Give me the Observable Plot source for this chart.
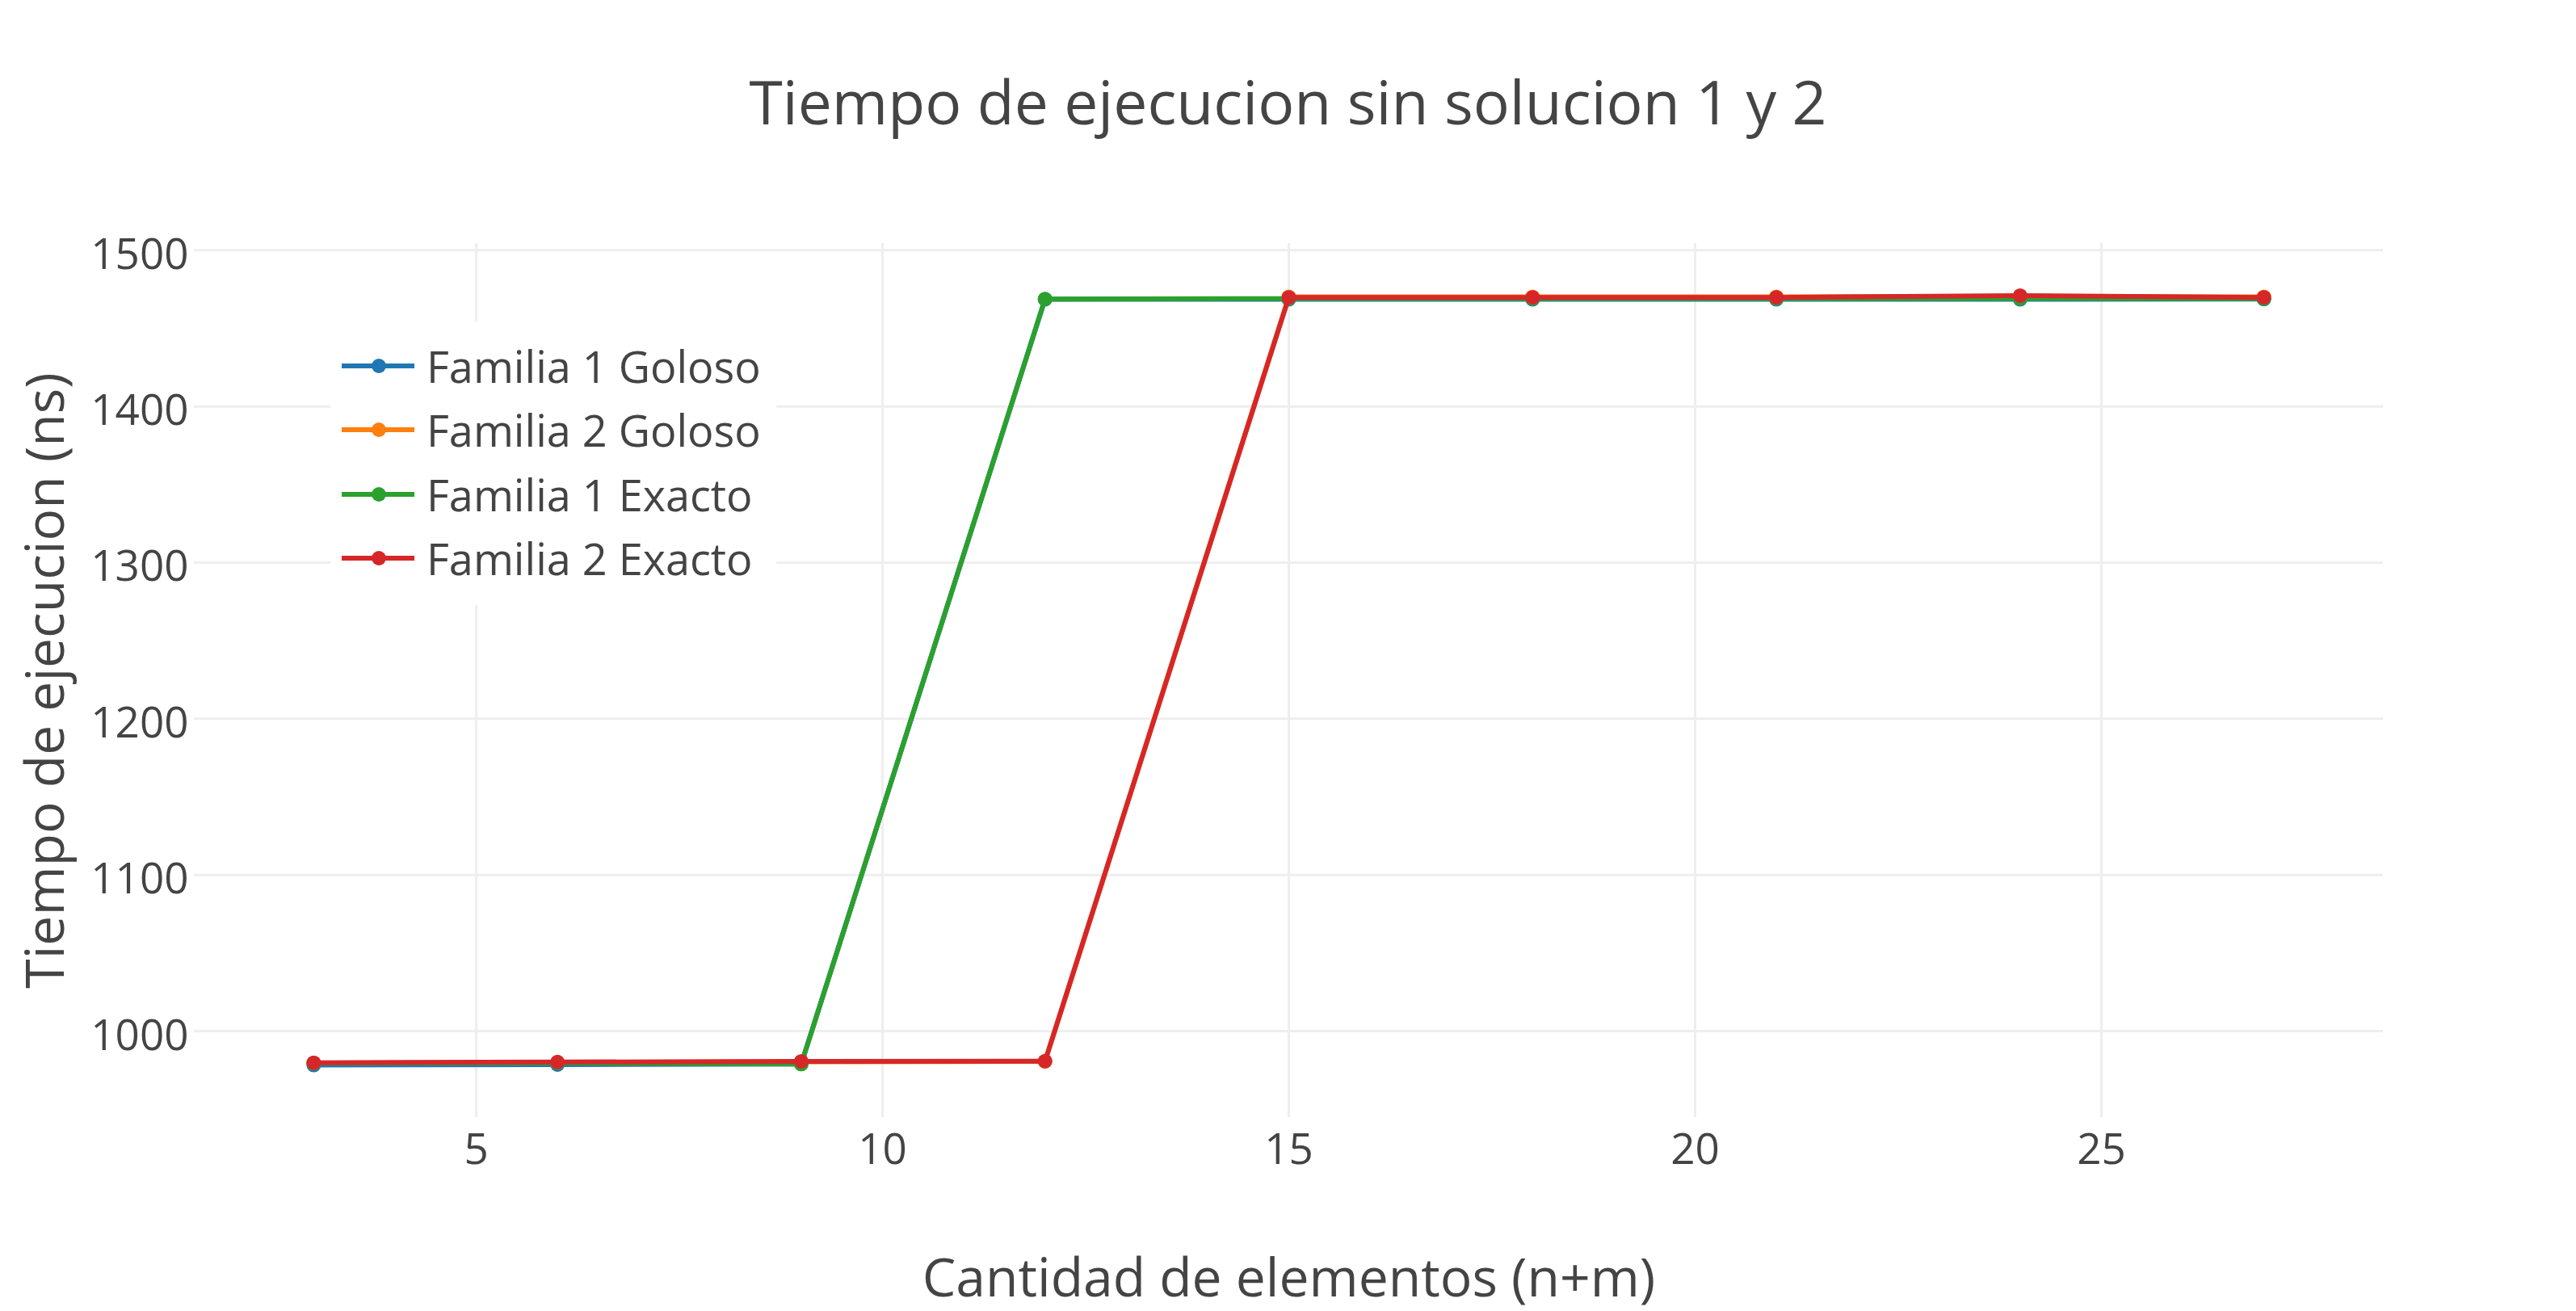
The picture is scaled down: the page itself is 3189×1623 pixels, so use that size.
<!DOCTYPE html>
<html>
<head>
<meta charset="utf-8">
<script src="https://cdn.jsdelivr.net/npm/d3@7"></script>
<script src="https://cdn.jsdelivr.net/npm/@observablehq/plot@0.6"></script>
<style>
  html, body { margin: 0; padding: 0; background: #fff; }
  #wrap { position: relative; width: 3189px; height: 1623px; font-family: "Open Sans", sans-serif; color: #444; overflow: hidden; }
  #title { position: absolute; left: 0; width: 3189px; top: 88px; text-align: center; font-size: 75px; line-height: 1; white-space: nowrap; }
  #chart { position: absolute; left: 0; top: 230px; }
  #legend { position: absolute; left: 409px; top: 398px; width: 552px; height: 351px; background: #fff; }
  .lg-item { position: absolute; left: 0; height: 60px; width: 552px; }
  .lg-item svg { position: absolute; left: 0; top: 0; }
  .lg-item span { position: absolute; left: 119px; top: 0; font-size: 54px; line-height: 60px; white-space: nowrap; }
</style>
</head>
<body>
<div id="wrap">
  <div id="title">Tiempo de ejecucion sin solucion 1 y 2</div>
  <div id="chart"></div>
  <div id="legend"></div>
</div>
<script>
// ---- data ----
const xValues = [3, 6, 9, 12, 15, 18, 21, 24, 27];
const familia1Goloso = [978.3, 978.6, 979.0, 1468.6, 1468.6, 1468.6, 1468.6, 1468.6, 1468.7];
const familia2Goloso = [979.6, 980.0, 980.4, 980.6, 1470.2, 1470.2, 1470.2, 1470.4, 1470.2];
const familia1Exacto = [979.5, 979.7, 978.9, 1468.8, 1469.0, 1469.0, 1469.0, 1469.1, 1469.0];
const familia2Exacto = [979.8, 980.2, 980.7, 980.8, 1469.8, 1469.8, 1469.8, 1471.0, 1469.8];
const seriesNames = ["Familia 1 Goloso", "Familia 2 Goloso", "Familia 1 Exacto", "Familia 2 Exacto"];
const seriesColors = ["#1f77b4", "#ff7f0e", "#2ca02c", "#d62728"];
const xTicks = [5, 10, 15, 20, 25];
const yTicks = [1000, 1100, 1200, 1300, 1400, 1500];
const xLabel = "Cantidad de elementos (n+m)";
const yLabel = "Tiempo de ejecucion (ns)";

const seriesValues = [familia1Goloso, familia2Goloso, familia1Exacto, familia2Exacto];
const rows = seriesValues.map((vals, i) => xValues.map((x, j) => ({x, y: vals[j], s: seriesNames[i]})));

const W = 3189, H = 1393;
const marks = [
  Plot.gridY(yTicks, {stroke: "#eeeeee", strokeOpacity: 1, strokeWidth: 3}),
  Plot.gridX(xTicks, {stroke: "#eeeeee", strokeOpacity: 1, strokeWidth: 3}),
  Plot.axisY(yTicks, {tickSize: 0, tickPadding: 7, fontSize: 53, fill: "#444", dy: 6, label: null, tickFormat: d3.format("d")}),
  Plot.axisX(xTicks, {tickSize: 0, tickPadding: 20, fontSize: 53, fill: "#444", label: null, tickFormat: d3.format("d")}),
];
rows.forEach((data, i) => {
  marks.push(Plot.line(data, {x: "x", y: "y", stroke: seriesColors[i], strokeWidth: 6, strokeLinejoin: "round"}));
  marks.push(Plot.dot(data, {x: "x", y: "y", r: 9, fill: seriesColors[i], stroke: "none"}));
});
marks.push(Plot.text([xLabel], {text: d => d, frameAnchor: "bottom", dy: 200, fontSize: 66, fill: "#444", lineAnchor: "middle", textAnchor: "middle"}));
marks.push(Plot.text([yLabel], {text: d => d, frameAnchor: "left", dx: -183, rotate: -90, fontSize: 66, fill: "#444", lineAnchor: "middle", textAnchor: "middle"}));

const plot = Plot.plot({
  width: W,
  height: H,
  marginLeft: 240,
  marginRight: 239,
  marginTop: 71,
  marginBottom: 240,
  style: {fontFamily: "Open Sans, sans-serif", background: "#fff", overflow: "visible"},
  x: {domain: [1.53, 28.47], label: null},
  y: {domain: [944.7, 1504.3], label: null},
  marks
});
document.getElementById("chart").appendChild(plot);

// ---- legend ----
const legend = document.getElementById("legend");
const rowCenters = [55, 134, 214, 293];
seriesNames.forEach((name, i) => {
  const item = document.createElement("div");
  item.className = "lg-item";
  item.style.top = (rowCenters[i] - 30) + "px";
  const svg = d3.create("svg").attr("width", 120).attr("height", 60);
  svg.append("line").attr("x1", 14).attr("x2", 104).attr("y1", 30).attr("y2", 30)
    .attr("stroke", seriesColors[i]).attr("stroke-width", 6);
  svg.append("circle").attr("cx", 60).attr("cy", 30).attr("r", 9).attr("fill", seriesColors[i]);
  item.appendChild(svg.node());
  const span = document.createElement("span");
  span.textContent = name;
  item.appendChild(span);
  legend.appendChild(item);
});
</script>
</body>
</html>
